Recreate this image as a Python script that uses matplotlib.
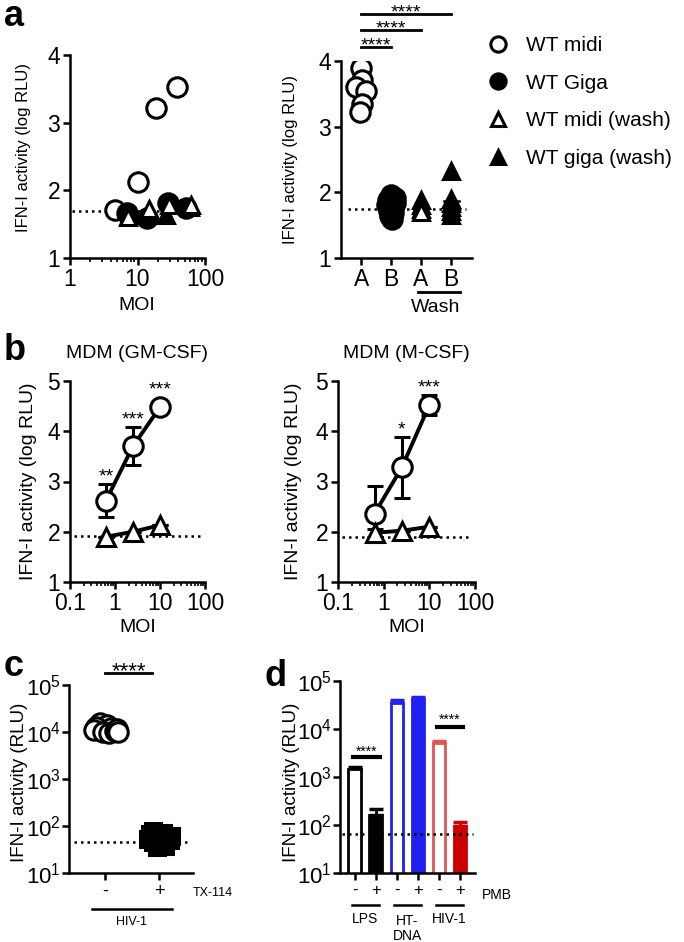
import matplotlib
matplotlib.use('Agg')
import matplotlib.pyplot as plt
from matplotlib.lines import Line2D
from matplotlib.ticker import NullFormatter, LogLocator

plt.rcParams['font.family'] = ['Liberation Sans', 'DejaVu Sans']
plt.rcParams['mathtext.fontset'] = 'custom'
plt.rcParams['mathtext.rm'] = 'Liberation Sans'
plt.rcParams['mathtext.it'] = 'Liberation Sans:italic'
plt.rcParams['mathtext.bf'] = 'Liberation Sans:bold'
plt.rcParams['axes.linewidth'] = 1.8

# ---- panel a (left): IFN-I vs MOI ----
moi_midi = [4.6, 10, 19, 38]
ifn_midi = [1.71, 2.12, 3.22, 3.53]
moi_giga = [6.9, 13.7, 28, 53]
ifn_giga = [1.66, 1.59, 1.81, 1.74]
moi_giga_wash = [7.5, 14, 26, 60]
ifn_giga_wash = [1.64, 1.64, 1.64, 1.76]
moi_midi_wash = [7.2, 15, 29, 63]
ifn_midi_wash = [1.61, 1.72, 1.79, 1.79]
a_left_base = 1.70

# ---- panel a (right): grouped scatter ----
a_cats = ['A', 'B', 'A', 'B']
a_midi = [3.89, 3.71, 3.60, 3.54, 3.35, 3.22]
a_midi_jit = [0.0, 0.02, -0.18, 0.18, 0.03, -0.02]
a_giga = [1.96, 1.92, 1.88, 1.84, 1.80, 1.76, 1.72, 1.68, 1.64, 1.60]
a_giga_jit = [0.0, 0.12, -0.1, 0.12, -0.12, 0.08, -0.08, 0.08, -0.04, 0.04]
a_midi_wash = [1.88, 1.80, 1.74, 1.70]
a_giga_wash = [2.32, 1.90, 1.84, 1.78, 1.72, 1.66]
a_right_base = 1.74
a_sig = [(1, 4, '****'), (1, 3, '****'), (1, 2, '****')]

# ---- panel b: MDM ----
b_moi = [0.63, 2.5, 10]
gm_midi = [2.62, 3.70, 4.48]
gm_midi_err = [0.33, 0.38, 0.0]
gm_wash = [1.90, 2.00, 2.13]
gm_stars = ['**', '***', '***']
gm_base = 1.92
m_midi = [2.36, 3.28, 4.52]
m_midi_err = [0.56, 0.60, 0.20]
m_wash = [1.98, 2.02, 2.10]
m_wash_err = [0.08, 0.0, 0.0]
m_stars = ['', '*', '***']
m_base = 1.89

# ---- panel c: TX-114 ----
c_labels = ['-', '+']
c_neg = [1.55e4, 1.4e4, 1.3e4, 1.2e4, 1.1e4, 1.0e4, 9.5e3, 1.05e4, 1.15e4, 9.8e3]
c_neg_jit = [-0.1, 0.04, -0.16, 0.12, -0.2, -0.04, 0.08, 0.18, 0.22, 0.24]
c_pos = [78, 72, 66, 60, 55, 50, 46, 42, 38, 35, 62, 52]
c_pos_jit = [-0.12, 0.08, -0.16, 0.16, -0.04, 0.2, -0.12, 0.04, 0.12, -0.04, 0.22, -0.2]
c_base = 46

# ---- panel d: PMB ----
d_vals = [1.5e3, 160, 3.5e4, 4.3e4, 5.2e3, 95]
d_err = [1.5e2, 60, 5e3, 4e3, 5e2, 20]
d_ticks = ['-', '+', '-', '+', '-', '+']
d_groups = ['LPS', 'HT-\nDNA', 'HIV-1']
d_base = 65

blue = '#2020f0'
d_edge = ['black', 'black', blue, blue, '#e05555', '#cc0000']
d_face = ['white', 'black', 'white', blue, 'white', '#cc0000']

W, H = 684, 942
fig = plt.figure(figsize=(6.84, 9.42), dpi=100)


def px_axes(x0, y0, x1, y1):
    return fig.add_axes([x0 / W, 1 - y1 / H, (x1 - x0) / W, (y1 - y0) / H])


def style(ax, lsize=16.5):
    for s in ('top', 'right'):
        ax.spines[s].set_visible(False)
    ax.tick_params(which='major', length=5, width=1.8, labelsize=lsize, pad=2)
    ax.tick_params(which='minor', length=3, width=1.2)


def ftext(x, y, s, **kw):
    fig.text(x / W, 1 - y / H, s, ha='center', va='center', **kw)


dots = dict(color='black', lw=1.8, ls=(0, (1, 1.6)))
opn = dict(mfc='white', mec='black', mew=2.2, ls='none')
fil = dict(mfc='black', mec='black', mew=2.2, ls='none')

# panel a left
ax = px_axes(70, 55, 205, 258)
style(ax)
ax.set_xscale('log')
ax.set_xlim(1, 100)
ax.set_ylim(1, 4)
ax.set_yticks([1, 2, 3, 4])
ax.set_xticks([1, 10, 100])
ax.set_xticklabels(['1', '10', '100'])
ax.xaxis.set_minor_locator(LogLocator(subs=range(2, 10)))
ax.xaxis.set_minor_formatter(NullFormatter())
ax.plot([1.06, 90], [a_left_base] * 2, **dots)
ax.plot(moi_midi, ifn_midi, 'o', ms=14, **opn)
ax.plot(moi_giga, ifn_giga, 'o', ms=14, **fil)
ax.plot(moi_giga_wash, ifn_giga_wash, '^', ms=12, **fil)
ax.plot(moi_midi_wash, ifn_midi_wash, '^', ms=11, **opn)
ftext(24, 147, 'IFN-I activity (log RLU)', rotation=90, fontsize=12)
ftext(137, 306, 'MOI', fontsize=14)
fig.text(4 / W, 1 - 16 / H, 'a', fontsize=26, fontweight='bold', va='center')

# panel a right
ax = px_axes(341, 61, 472, 258)
style(ax)
ax.set_xlim(0.33, 4.7)
ax.set_ylim(1, 4)
ax.set_yticks([1, 2, 3, 4])
ax.set_xticks([1, 2, 3, 4])
ax.set_xticklabels(a_cats)
ax.plot([0.55, 4.5], [a_right_base] * 2, **dots)
ax.plot([1 + j for j in a_midi_jit], a_midi, 'o', ms=14, **opn)
ax.plot([2 + j for j in a_giga_jit], a_giga, 'o', ms=14, **fil)
ax.plot([3] * len(a_midi_wash), a_midi_wash, '^', ms=12, **opn)
ax.plot([4] * len(a_giga_wash), a_giga_wash, '^', ms=12, **fil)
ax.plot([3.75, 4.25], [sum(a_giga_wash) / len(a_giga_wash)] * 2, color='black', lw=1.8)
tr = ax.get_xaxis_transform()
for (x0, x1, s), yy in zip(a_sig, [1.239, 1.157, 1.071]):
    ax.plot([x0, x1], [yy, yy], color='black', lw=2, transform=tr, clip_on=False)
    ax.text((x0 + x1) / 2, yy + 0.005, s, ha='center', va='center', fontsize=14, transform=tr)
ax.plot([2.9, 4.3], [-0.171, -0.171], color='black', lw=2, transform=tr, clip_on=False)
ax.text(3.5, -0.249, 'Wash', ha='center', va='center', fontsize=14, transform=tr)
ftext(290, 160, 'IFN-I activity (log RLU)', rotation=90, fontsize=12)

# legend
handles = [Line2D([], [], marker='o', ms=11, **opn),
           Line2D([], [], marker='o', ms=11, **fil),
           Line2D([], [], marker='^', ms=10, **opn),
           Line2D([], [], marker='^', ms=10, **fil)]
fig.legend(handles, ['WT midi', 'WT Giga', 'WT midi (wash)', 'WT giga (wash)'],
           loc='upper left', bbox_to_anchor=(488 / W, 1 - 36 / H), frameon=False,
           fontsize=15, handlelength=1.0, handletextpad=0.8, labelspacing=0.9,
           borderpad=0, borderaxespad=0)


def mdm_panel(x0, x1, midi, err, wash, werr, stars, base, title, lx):
    ax = px_axes(x0, 381, x1, 582)
    style(ax)
    ax.set_xscale('log')
    ax.set_xlim(0.1, 100)
    ax.set_ylim(1, 5)
    ax.set_yticks([1, 2, 3, 4, 5])
    ax.set_xticks([0.1, 1, 10, 100])
    ax.set_xticklabels(['0.1', '1', '10', '100'])
    ax.xaxis.set_minor_locator(LogLocator(subs=range(2, 10)))
    ax.xaxis.set_minor_formatter(NullFormatter())
    ax.plot([0.12, 80], [base] * 2, **dots)
    ax.errorbar(b_moi, midi, yerr=err, fmt='none', ecolor='black', elinewidth=2.2,
                capsize=6, capthick=2.2)
    ax.errorbar(b_moi, wash, yerr=werr, fmt='none', ecolor='black', elinewidth=2.2,
                capsize=6, capthick=2.2)
    ax.plot(b_moi, midi, '-', color='black', lw=2.8)
    ax.plot(b_moi, wash, '-', color='black', lw=2.8)
    ax.plot(b_moi, midi, 'o', ms=14, **opn, zorder=4)
    ax.plot(b_moi, wash, '^', ms=13, **opn, zorder=4)
    for xv, yv, ev, s in zip(b_moi, midi, err, stars):
        ax.annotate(s, (xv, yv + max(ev, 0.2)), xytext=(0, 5), textcoords='offset points',
                    ha='center', va='center', fontsize=14)
    ftext((x0 + x1) / 2, 353, title, fontsize=14)
    ftext((x0 + x1) / 2, 628, 'MOI', fontsize=14)
    ftext(lx, 481, 'IFN-I activity (log RLU)', rotation=90, fontsize=14)


mdm_panel(70, 205, gm_midi, gm_midi_err, gm_wash, [0, 0, 0], gm_stars, gm_base,
          'MDM (GM-CSF)', 29)
mdm_panel(338, 475, m_midi, m_midi_err, m_wash, m_wash_err, m_stars, m_base,
          'MDM (M-CSF)', 293)
fig.text(4 / W, 1 - 351 / H, 'b', fontsize=26, fontweight='bold', va='center')


def log_y(ax):
    ax.set_yscale('log')
    ax.set_yticks([1e1, 1e2, 1e3, 1e4, 1e5])
    ax.set_yticklabels(['$\\mathregular{10^{%d}}$' % k for k in range(1, 6)])
    ax.yaxis.set_minor_locator(LogLocator(subs=range(2, 10)))
    ax.yaxis.set_minor_formatter(NullFormatter())
    ax.tick_params(axis='y', labelsize=16, pad=1)


# panel c
ax = px_axes(69, 685, 193, 873)
style(ax)
log_y(ax)
ax.set_ylim(10, 1e5)
ax.set_xlim(-0.667, 1.63)
ax.set_xticks([0, 1])
ax.set_xticklabels(c_labels, fontsize=13)
ax.plot([-0.58, 1.6], [c_base] * 2, **dots)
ax.plot([1 + j for j in c_pos_jit], c_pos, 's', ms=12, **fil)
ax.plot(c_neg_jit, c_neg, 'o', ms=14, **opn)
tr = ax.get_xaxis_transform()
ax.plot([0, 0.87], [1.064, 1.064], color='black', lw=2, transform=tr, clip_on=False)
ax.text(0.435, 1.07, '****', ha='center', va='center', fontsize=16, transform=tr)
ax.text(2.0, -0.106, 'TX-114', ha='center', va='center', fontsize=9, transform=tr)
ax.plot([-0.25, 1.25], [-0.191, -0.191], color='black', lw=1.8, transform=tr, clip_on=False)
ax.text(0.5, -0.26, 'HIV-1', ha='center', va='center', fontsize=9, transform=tr)
ftext(20, 782, 'IFN-I activity (RLU)', rotation=90, fontsize=13.5)
fig.text(4 / W, 1 - 667 / H, 'c', fontsize=26, fontweight='bold', va='center')

# panel d
ax = px_axes(340, 681, 475, 873)
style(ax)
log_y(ax)
ax.set_ylim(10, 1e5)
ax.set_xlim(-0.7, 5.71)
pos = list(range(len(d_vals)))
ax.set_xticks(pos)
ax.set_xticklabels(d_ticks, fontsize=12)
ax.bar(pos, d_vals, width=0.6, color=d_face, edgecolor=d_edge, linewidth=2, zorder=2)
for p, v, e, c in zip(pos, d_vals, d_err, d_edge):
    ax.errorbar([p], [v], yerr=[[0], [e]], fmt='none', ecolor=c, elinewidth=2,
                capsize=5, capthick=2.5, zorder=1)
ax.plot([-0.6, 5.6], [d_base] * 2, zorder=3, **dots)
ax.plot([-0.08, 1.2], [2.6e3, 2.6e3], color='black', lw=3)
ax.annotate('****', (0.56, 2.6e3), xytext=(0, 4), textcoords='offset points',
            ha='center', va='center', fontsize=10)
ax.plot([3.9, 5.14], [1.1e4, 1.1e4], color='black', lw=3)
ax.annotate('****', (4.52, 1.1e4), xytext=(0, 5), textcoords='offset points',
            ha='center', va='center', fontsize=10)
tr = ax.get_xaxis_transform()
ax.text(6.76, -0.115, 'PMB', ha='center', va='center', fontsize=10, transform=tr)
for k, g in enumerate(d_groups):
    ax.plot([2 * k - 0.15, 2 * k + 1.15], [-0.167, -0.167], color='black', lw=1.8,
            transform=tr, clip_on=False)
    ax.text(2 * k + 0.5, -0.29 if '\n' in g else -0.24, g, ha='center', va='center',
            fontsize=10, transform=tr, linespacing=1.1)
ftext(291, 782, 'IFN-I activity (RLU)', rotation=90, fontsize=13.5)
fig.text(265 / W, 1 - 677 / H, 'd', fontsize=26, fontweight='bold', va='center')

fig.savefig('out.png', dpi=100, facecolor='white')
